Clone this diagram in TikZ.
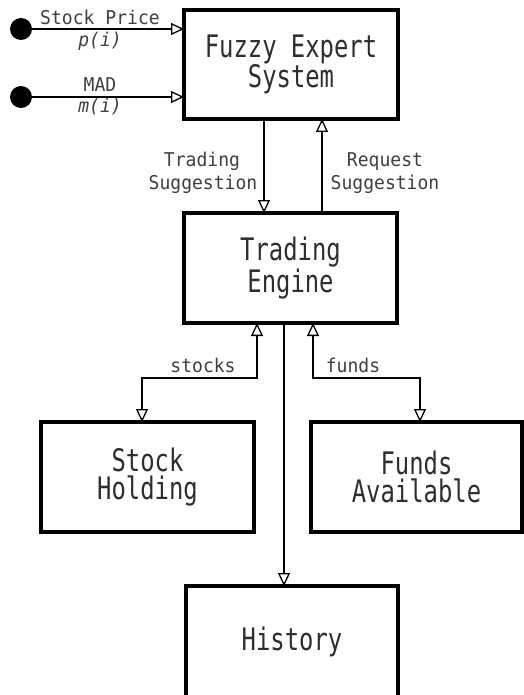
\documentclass[tikz,border=0pt]{standalone}
\usepackage{fontspec}
\newfontfamily\boxfont[FakeStretch=0.77]{DejaVu Sans Mono}
\newfontfamily\lblfont[FakeStretch=0.95]{DejaVu Sans Mono}
\usetikzlibrary{arrows.meta}
\tikzset{
  blk/.style={draw, line width=3.5pt, rectangle, inner sep=0pt, outer sep=0pt,
    align=center, text=black!82, font=\boxfont\fontsize{31}{28}\selectfont},
  lbl/.style={inner sep=0pt, anchor=base, text=black!75,
    font=\lblfont\fontsize{19}{22}\selectfont},
  tip/.tip={Triangle[open, length=13pt, width=12pt, line width=1.3pt]},
  conn/.style={line width=1.7pt, -tip},
  conn2/.style={line width=1.7pt, tip-tip},
  dot/.style={circle, fill=black, minimum size=22pt, inner sep=0pt, outer sep=0pt},
}
\begin{document}
\begin{tikzpicture}[x=1pt, y=-1pt]
\useasboundingbox[fill=white] (0,0) rectangle (523,695);

% boxes
\node[blk, minimum width=214pt, minimum height=109pt] (fes) at (291,64.5) {Fuzzy Expert\\System};
\node[blk, minimum width=213pt, minimum height=110pt] (te) at (290.5,268) {Trading\\Engine};
\node[blk, minimum width=213pt, minimum height=110pt] (sh) at (147.5,477) {Stock\\Holding};
\node[blk, minimum width=211pt, minimum height=110pt] (fa) at (416.5,477) {Funds\\Available};
\node[blk, minimum width=212pt, minimum height=112pt] (hi) at (292,642) {History};

% inputs
\node[dot] (d1) at (21,29) {};
\node[dot] (d2) at (21,97) {};
\draw[conn] (d1.center) -- (fes.west |- d1.center);
\draw[conn] (d2.center) -- (fes.west |- d2.center);
\node[lbl] (lsp) at (100,25) {Stock Price};
\node[lbl] (lpi) at (100,47) {\itshape p(i)};
\node[lbl] (lmad) at (100,92) {MAD};
\node[lbl] (lmi) at (100,113) {\itshape m(i)};

% fuzzy <-> trading
\coordinate (xts) at (264,0);
\coordinate (xrq) at (322,0);
\draw[conn] (fes.south -| xts) -- (te.north -| xts);
\draw[conn] (te.north -| xrq) -- (fes.south -| xrq);
\node[lbl] (lts1) at (202,167) {Trading};
\node[lbl] (lts2) at (203,189) {Suggestion};
\node[lbl] (lrs1) at (385,167) {Request};
\node[lbl] (lrs2) at (385,189) {Suggestion};

% trading <-> holdings
\coordinate (skl) at (142,378);
\coordinate (skr) at (257,378);
\coordinate (ful) at (313,378);
\coordinate (fur) at (420,378);
\draw[conn2, line join=miter] (sh.north -| skl) -- (skl) -- (skr) -- (te.south -| skr);
\draw[conn2, line join=miter] (te.south -| ful) -- (ful) -- (fur) -- (fa.north -| fur);
\node[lbl] (lsk) at (203,372) {stocks};
\node[lbl] (lfu) at (353,372) {funds};

% history
\coordinate (xhi) at (284,0);
\draw[conn] (te.south -| xhi) -- (hi.north -| xhi);
\end{tikzpicture}
\end{document}
